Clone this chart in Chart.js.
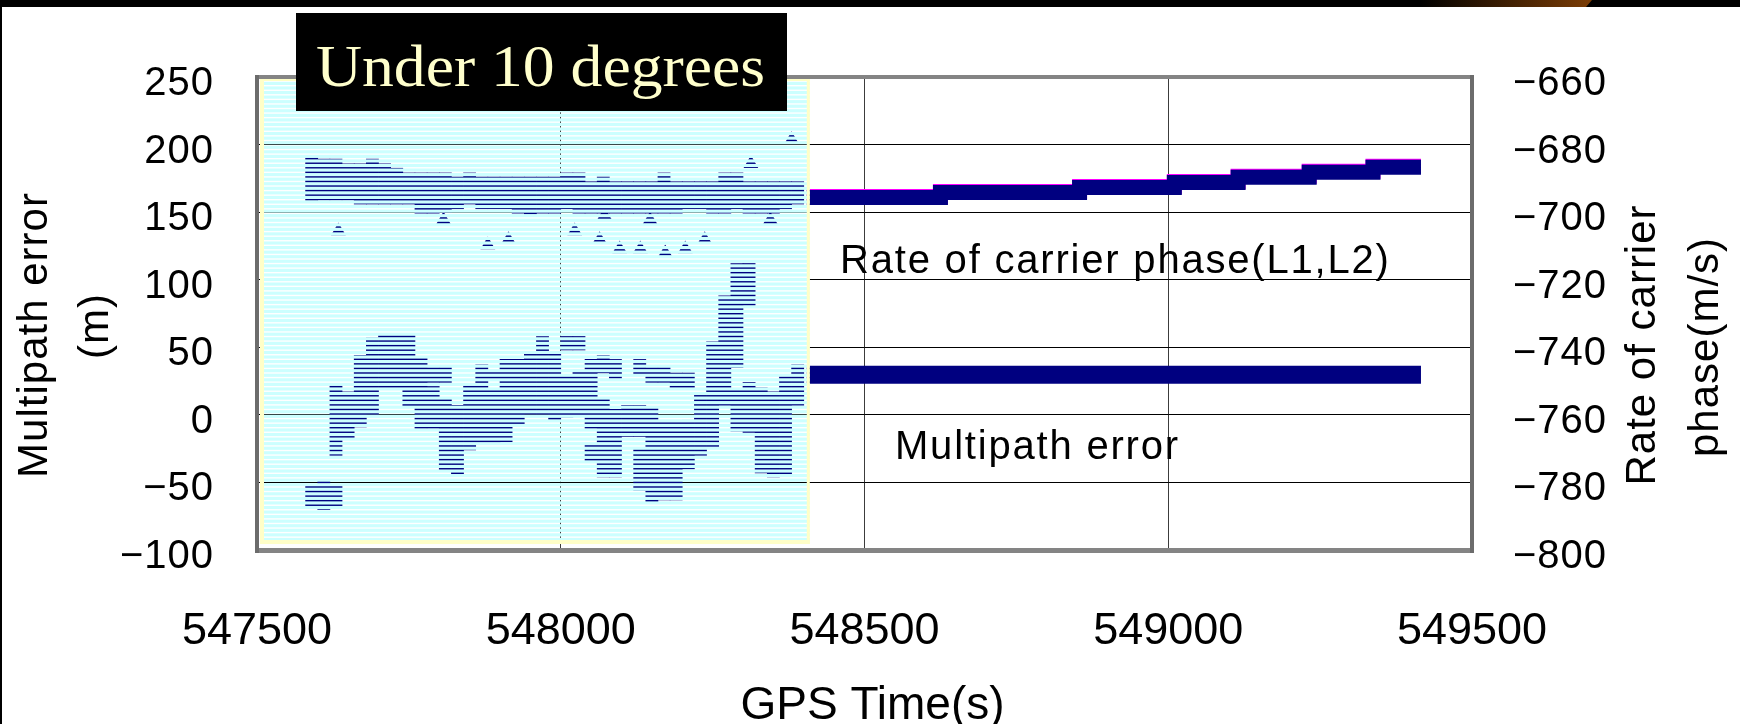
<!DOCTYPE html>
<html>
<head>
<meta charset="utf-8">
<script src="https://cdn.jsdelivr.net/npm/chart.js@4.4.1/dist/chart.umd.min.js"></script>
<style>
  html, body { margin: 0; padding: 0; background: #fff; }
  canvas { display: block; }
</style>
</head>
<body>
<canvas id="chart" width="1740" height="724"></canvas>
<script>
// axes
const timeTicks = [547500, 548000, 548500, 549000, 549500];
const errorTicks = [250, 200, 150, 100, 50, 0, -50, -100];
const rateTicks = [-660, -680, -700, -720, -740, -760, -780, -800];
const lowElevEnd = 548405;   // end of the "under 10 degrees" window

// under 10 degrees, 20 s bins: [time, low, high] of multipath error (m)
const mpLowElev = [
  [547590,-69,-52],[547610,-70,-48],[547630,-30,22],[547630,-68,-52],[547650,-17,17],
  [547670,-9,44],[547690,0,57],[547710,20,60],[547730,20,60],[547750,6,60],
  [547770,-10,43],[547790,-10,21],[547790,24,35],[547810,-41,13],[547810,24,35],
  [547830,-44,7],[547850,-26,22],[547870,-22,37],[547890,-22,19],[547890,26,32],
  [547910,-20,41],[547930,-8,41],[547950,0,47],[547970,0,58],[547990,-4,46],
  [548010,-2,30],[548010,48,58],[548030,-1,33],[548030,48,58],[548050,-10,41],
  [548050,-34,-22],[548070,-46,13],[548070,31,44],[548090,-46,4],[548090,27,41],
  [548110,-16,7],[548130,-16,7],[548130,30,41],[548130,-56,-25],[548150,-65,5],
  [548150,24,35],[548170,-63,-4],[548170,24,35],[548190,-63,-4],[548190,20,31],
  [548210,-40,-4],[548210,20,31],[548230,-30,15],[548250,-25,54],[548270,7,88],
  [548290,-12,19],[548290,35,112],[548310,-13,24],[548310,81,112],[548330,-43,20],
  [548350,-46,17],[548370,-44,30],[548390,7,37]
];

// under 10 degrees, 20 s bins: [time, low, high] of rate of carrier phase (m/s)
const rateLowElev = [
  [547590,-696.5,-683.5],[547610,-696.4,-684.3],[547630,-696.4,-684.3],[547650,-696.4,-685.7],
  [547670,-697.6,-685.7],[547690,-697.6,-684.3],[547710,-697.6,-685.7],[547730,-697.6,-687],
  [547750,-697.6,-688.4],[547770,-700.3,-688.4],[547790,-700.3,-688.4],[547810,-700,-688.4],
  [547830,-699,-689.6],[547850,-697.6,-688.4],[547870,-699,-689.6],[547890,-699,-689.6],
  [547910,-699,-689.6],[547930,-700.3,-689.6],[547950,-700.6,-689.6],[547970,-700.3,-689.6],
  [547990,-700.3,-689.6],[548010,-699,-688.4],[548030,-700.3,-688.4],[548050,-700.3,-691],
  [548070,-700.3,-689.6],[548090,-700.3,-691],[548110,-700.3,-691],[548130,-700.3,-691],
  [548150,-700.3,-691],[548170,-700.3,-688.4],[548190,-700.3,-691],[548210,-699,-691],
  [548230,-699,-691],[548250,-700.3,-691],[548270,-700.3,-688.4],[548290,-699,-688.4],
  [548310,-700.3,-691],[548330,-700.3,-691],[548350,-700.3,-691],[548370,-699,-691],
  [548390,-697.6,-691]
];

// isolated rate samples in the low elevation window
const rateSpikeTime = [547634, 547807, 547880, 547914, 548023, 548064, 548072, 548097,
  548131, 548147, 548172, 548205, 548237, 548313, 548345, 548380];
const rateSpikeValue = [-705.6, -702.3, -709.7, -708.2, -705.6, -708.2, -701, -710.9,
  -710.9, -702.3, -712.1, -710.9, -708.2, -685.7, -702.3, -678.6];

// above 10 degrees
const rateStepTime = [548405, 548625, 548854, 549010, 549115, 549232, 549337, 549416];
const rateL2 = [-695.7, -694.2, -692.7, -691.2, -689.7, -688.2, -686.7, -686.7];
const rateL1 = [-695.4, -693.9, -692.4, -690.9, -689.4, -687.9, -686.4, -686.4];
const mpTime = [548405, 549416];
const mpError = [29.6, 29.6];

const navy = '#000080';
const FONT = '"Liberation Sans", Arial, sans-serif';

const pageDecor = {
  id: 'pageDecor',
  beforeDraw(chart) {
    const { ctx } = chart;
    ctx.save();
    ctx.fillStyle = '#fff';
    ctx.fillRect(0, 0, chart.width, chart.height);
    // slide frame
    const g = ctx.createLinearGradient(1420, 0, 1590, 0);
    g.addColorStop(0, '#000');
    g.addColorStop(1, '#7a3c05');
    ctx.fillStyle = g;
    ctx.fillRect(0, 0, 1592, 7);
    ctx.fillStyle = '#000';
    ctx.beginPath();
    ctx.moveTo(1592, 0); ctx.lineTo(chart.width, 0); ctx.lineTo(chart.width, 7); ctx.lineTo(1586, 7);
    ctx.fill();
    ctx.fillRect(0, 0, 2, chart.height);
    ctx.restore();
  },
  // hatched cyan box laid over the low elevation part
  afterDatasetsDraw(chart) {
    const { ctx } = chart;
    const x = chart.scales.x, y = chart.scales.y;
    const bx0 = x.left + 3, bx1 = x.getPixelForValue(lowElevEnd) + 3;
    const by0 = y.top + 2, by1 = y.bottom - 6;
    const period = 4.56, gap = 1.4;
    let yy = y.getPixelForValue(-50);
    while (yy - period > by0) yy -= period;
    ctx.save();
    ctx.fillStyle = '#ccffff';
    let from = by0;
    for (; yy < by1; yy += period) {
      const g0 = yy - gap / 2;
      if (g0 > from) ctx.fillRect(bx0, from, bx1 - bx0, g0 - from);
      from = yy + gap / 2;
    }
    if (from < by1) ctx.fillRect(bx0, from, bx1 - bx0, by1 - from);
    ctx.fillStyle = '#ffffc8';
    ctx.fillRect(bx0, by0, 4, by1 - by0);
    ctx.fillRect(bx1 - 3, by0, 3, by1 - by0);
    ctx.fillRect(bx0, by1 - 4, bx1 - bx0, 4);
    ctx.fillRect(bx0, by0, bx1 - bx0, 2);
    ctx.restore();
  },
  afterDraw(chart) {
    const { ctx } = chart;
    const x = chart.scales.x, y = chart.scales.y, y2 = chart.scales.y2;
    const a = chart.chartArea;
    ctx.save();
    // plot frame
    ctx.fillStyle = '#848484';
    ctx.fillRect(a.left - 2, a.top - 2, a.right - a.left + 4, 4);
    ctx.fillRect(a.left - 2, a.bottom - 2, a.right - a.left + 4, 5);
    ctx.fillStyle = '#6c6c6c';
    ctx.fillRect(a.left - 2, a.top - 2, 4, a.bottom - a.top + 5);
    ctx.fillRect(a.right - 2, a.top - 2, 4, a.bottom - a.top + 5);

    ctx.fillStyle = '#000';
    ctx.letterSpacing = '1px';
    ctx.font = '40px ' + FONT;
    ctx.textBaseline = 'alphabetic';
    ctx.textAlign = 'right';
    errorTicks.forEach(v => ctx.fillText(String(v).replace('-', '\u2212'), 214, y.getPixelForValue(v) + 18));
    ctx.textAlign = 'left';
    rateTicks.forEach(v => ctx.fillText(String(v).replace('-', '\u2212'), 1513, y2.getPixelForValue(v) + 18));
    ctx.letterSpacing = '0px';
    ctx.font = '45px ' + FONT;
    ctx.textAlign = 'center';
    timeTicks.forEach(v => ctx.fillText(String(v), x.getPixelForValue(v), 644));
    ctx.font = '46px ' + FONT;
    ctx.fillText('GPS Time(s)', (a.left + a.right) / 2 + 8, 719);

    // axis titles, reading upward
    ctx.font = '42px ' + FONT;
    ctx.letterSpacing = '1px';
    const up = (t, px, py) => {
      ctx.save(); ctx.translate(px, py); ctx.rotate(-Math.PI / 2);
      ctx.fillText(t, 0, 0); ctx.restore();
    };
    up('Multipath error', 47, 335);
    up('(m)', 108, 326);
    up('Rate of carrier', 1655, 345);
    up('phase(m/s)', 1718, 347);

    // in-plot labels
    ctx.font = '40px ' + FONT;
    ctx.letterSpacing = '1.8px';
    ctx.textAlign = 'left';
    ctx.fillText('Rate of carrier phase(L1,L2)', 840, 273);
    ctx.fillText('Multipath error', 895, 459);

    // heading box
    ctx.letterSpacing = '0px';
    ctx.fillStyle = '#000';
    ctx.fillRect(296, 13, 491, 98);
    ctx.fillStyle = '#ffffcc';
    ctx.font = '60px "Liberation Serif", "Times New Roman", serif';
    ctx.save();
    ctx.translate(316, 86);
    ctx.scale(449 / ctx.measureText('Under 10 degrees').width, 1);
    ctx.fillText('Under 10 degrees', 0, 0);
    ctx.restore();
    ctx.restore();
  }
};

const zeroFit = axis => s => { if (axis === 'x') s.height = 0; else s.width = 0; };

new Chart(document.getElementById('chart'), {
  type: 'line',
  data: {
    datasets: [
      { label: 'Rate of carrier phase L2', yAxisID: 'y2',
        data: rateStepTime.map((t, i) => ({ x: t, y: rateL2[i] })),
        borderColor: navy, borderWidth: 15, stepped: true, pointRadius: 0, borderJoinStyle: 'miter' },
      { label: 'Rate of carrier phase L1', yAxisID: 'y2',
        data: rateStepTime.map((t, i) => ({ x: t, y: rateL1[i] })),
        borderColor: '#ff00ff', borderWidth: 15, stepped: true, pointRadius: 0, borderJoinStyle: 'miter' },
      { label: 'Multipath error', yAxisID: 'y',
        data: mpTime.map((t, i) => ({ x: t, y: mpError[i] })),
        borderColor: navy, borderWidth: 18, pointRadius: 0 },
      { type: 'bar', label: 'Rate of carrier phase (under 10 deg)', yAxisID: 'y2',
        data: rateLowElev.map(([t, lo, hi]) => ({ x: t, y: [lo, hi] })),
        backgroundColor: navy, borderWidth: 0, grouped: false, barPercentage: 1, categoryPercentage: 1 },
      { type: 'bar', label: 'Multipath error (under 10 deg)', yAxisID: 'y',
        data: mpLowElev.map(([t, lo, hi]) => ({ x: t, y: [lo, hi] })),
        backgroundColor: navy, borderWidth: 0, grouped: false, barPercentage: 1, categoryPercentage: 1 },
      { label: 'Rate samples', yAxisID: 'y2', showLine: false,
        data: rateSpikeTime.map((t, i) => ({ x: t, y: rateSpikeValue[i] })),
        pointStyle: 'triangle', pointRadius: 8.5, pointBorderWidth: 0, backgroundColor: navy }
    ]
  },
  options: {
    responsive: false,
    animation: false,
    devicePixelRatio: 1,
    events: [],
    layout: { padding: { left: 257, right: 268, top: 77, bottom: 174 } },
    plugins: { legend: { display: false }, tooltip: { enabled: false } },
    scales: {
      x: { type: 'linear', min: 547500, max: 549500, offset: false, afterFit: zeroFit('x'),
           ticks: { display: false, stepSize: 500 }, border: { display: false },
           grid: { color: '#3c3c3c', lineWidth: 1, drawTicks: false, offset: false } },
      y: { position: 'left', min: -100, max: 250, afterFit: zeroFit('y'),
           ticks: { display: false, stepSize: 50 }, border: { display: false },
           grid: { color: '#000', lineWidth: 1, drawTicks: false } },
      y2: { position: 'right', min: -800, max: -660, afterFit: zeroFit('y2'),
            ticks: { display: false, stepSize: 20 }, border: { display: false },
            grid: { display: false } }
    }
  },
  plugins: [pageDecor]
});
</script>
</body>
</html>
